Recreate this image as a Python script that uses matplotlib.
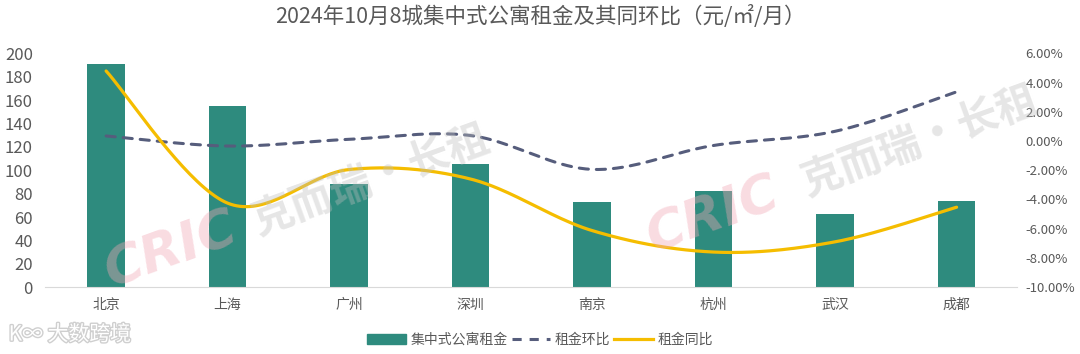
import numpy as np
import matplotlib
matplotlib.use("Agg")
import matplotlib.pyplot as plt
import matplotlib.patheffects as pe
from matplotlib.lines import Line2D
from matplotlib.patches import Patch

plt.rcParams['font.family'] = ['Noto Sans CJK SC', 'DejaVu Sans']

cities = ['北京', '上海', '广州', '深圳', '南京', '杭州', '武汉', '成都']
rent = [191, 155, 88, 105, 72.5, 82.5, 62.5, 74]
mom = [0.35, -0.34, 0.12, 0.38, -1.94, -0.3, 0.67, 3.37]      # 租金环比 %
yoy = [4.8, -4.25, -1.95, -2.6, -6.13, -7.6, -6.9, -4.53]    # 租金同比 %

left_ticks = list(range(0, 201, 20))
right_ticks = list(range(-10, 7, 2))

BAR = '#2E8B7E'
DASH = '#565D7C'
YEL = '#F5BD00'
TXT = '#595959'


def smooth(xs, ys, n=40):
    # excel style smoothing (catmull-rom as bezier)
    pts = np.column_stack([xs, ys]).astype(float)
    out = []
    for i in range(len(pts) - 1):
        p0 = pts[i - 1] if i > 0 else pts[i]
        p1 = pts[i]
        p2 = pts[i + 1]
        p3 = pts[i + 2] if i + 2 < len(pts) else pts[i + 1]
        c1 = p1 + (p2 - p0) / 6
        c2 = p2 - (p3 - p1) / 6
        t = np.linspace(0, 1, n)[:, None]
        seg = (1 - t) ** 3 * p1 + 3 * (1 - t) ** 2 * t * c1 + 3 * (1 - t) * t ** 2 * c2 + t ** 3 * p2
        out.append(seg if i == 0 else seg[1:])
    out = np.vstack(out)
    return out[:, 0], out[:, 1]


fig = plt.figure(figsize=(10.8, 3.54), dpi=100)
ax = fig.add_axes([0.042, 0.189, 0.9, 0.66])
ax2 = ax.twinx()

x = np.arange(len(cities))
ax.bar(x, rent, width=0.31, color=BAR, zorder=2)
ax.set_ylim(0, 200)
ax.set_xlim(-0.5, len(cities) - 0.5)
ax.set_yticks(left_ticks)
ax.set_xticks(x)
ax.set_xticklabels(cities)

sx, sy = smooth(x, mom)
ax2.plot(sx, sy, color=DASH, lw=2.2, dashes=(3, 2.6), solid_capstyle='round', dash_capstyle='round')
sx, sy = smooth(x, yoy)
ax2.plot(sx, sy, color=YEL, lw=2.3, solid_capstyle='round')
ax2.set_ylim(-10, 6)
ax2.set_yticks(right_ticks)
ax2.set_yticklabels(['%.2f%%' % v for v in right_ticks])

for a in (ax, ax2):
    for s in a.spines.values():
        s.set_visible(False)
    a.tick_params(length=0, colors=TXT)
ax.spines['bottom'].set_visible(True)
ax.spines['bottom'].set_color('#D9D9D9')
ax.tick_params(axis='x', pad=8, labelsize=10)
ax.tick_params(axis='y', pad=9, labelsize=12)
ax2.tick_params(axis='y', pad=6, labelsize=9.5)

fig.text(0.5, 0.952, '2024年10月8城集中式公寓租金及其同环比（元/㎡/月）',
         ha='center', va='center', fontsize=15.5, color=TXT)

handles = [Patch(color=BAR),
           Line2D([], [], color=DASH, lw=2.2, dashes=(3, 2.6)),
           Line2D([], [], color=YEL, lw=2.3)]
fig.legend(handles, ['集中式公寓租金', '租金环比', '租金同比'], loc='center',
           bbox_to_anchor=(0.5, 0.04), ncol=3, frameon=False, fontsize=10,
           labelcolor=TXT, handlelength=2.8, handletextpad=0.3, columnspacing=0.3)

# watermarks
for (cx, cy), (kx, ky) in [((0.158, 0.294), (0.344, 0.489)), ((0.660, 0.393), (0.852, 0.599))]:
    fig.text(cx, cy, 'CRIC', fontsize=38, fontweight='bold', fontstyle='italic',
             color='#F2A7B5', alpha=0.4, rotation=20, ha='center', va='center', zorder=5,
             family='DejaVu Sans')
    fig.text(kx, ky, '克而瑞·长租', fontsize=30, fontweight='bold',
             color='#BDBDBD', alpha=0.38, rotation=20, ha='center', va='center', zorder=5)
fig.text(0.008, 0.055, 'K∞ 大数跨境', fontsize=15, color='white',
         ha='left', va='center',
         path_effects=[pe.withStroke(linewidth=2, foreground='#CFCFCF')])

fig.savefig('out.png', dpi=100)
